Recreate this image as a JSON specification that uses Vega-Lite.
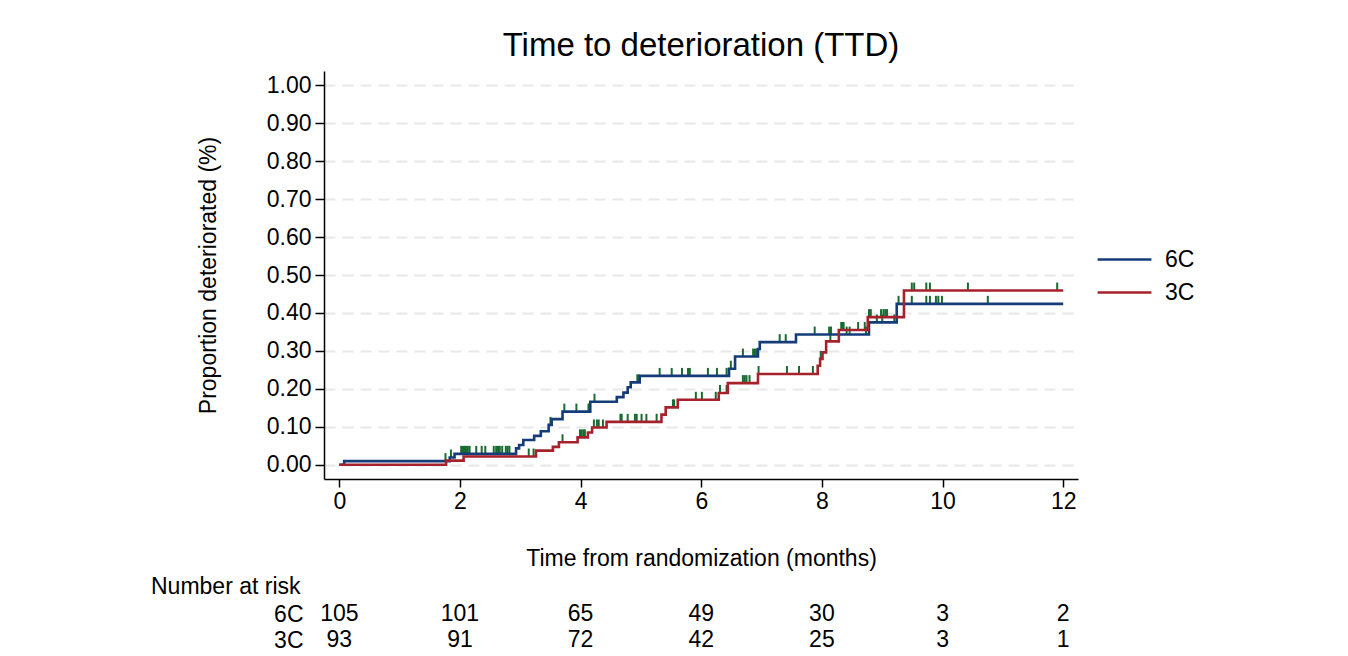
{
  "$schema": "https://vega.github.io/schema/vega-lite/v6.json",
  "background": "white",
  "padding": {"left": 151, "top": 30, "right": 0, "bottom": 0},
  "spacing": 6,
  "datasets": {
    "curves": [
      {"group": "6C", "time": 0, "p": 0},
      {"group": "6C", "time": 0.08, "p": 0.0095},
      {"group": "6C", "time": 1.83, "p": 0.019},
      {"group": "6C", "time": 1.91, "p": 0.0286},
      {"group": "6C", "time": 2.93, "p": 0.043},
      {"group": "6C", "time": 2.98, "p": 0.052},
      {"group": "6C", "time": 3.05, "p": 0.065},
      {"group": "6C", "time": 3.23, "p": 0.076},
      {"group": "6C", "time": 3.34, "p": 0.088},
      {"group": "6C", "time": 3.47, "p": 0.105},
      {"group": "6C", "time": 3.52, "p": 0.12},
      {"group": "6C", "time": 3.7, "p": 0.14},
      {"group": "6C", "time": 4.16, "p": 0.166},
      {"group": "6C", "time": 4.6, "p": 0.178},
      {"group": "6C", "time": 4.71, "p": 0.19},
      {"group": "6C", "time": 4.78, "p": 0.204},
      {"group": "6C", "time": 4.83, "p": 0.217},
      {"group": "6C", "time": 4.98, "p": 0.234},
      {"group": "6C", "time": 6.46, "p": 0.253},
      {"group": "6C", "time": 6.56, "p": 0.285},
      {"group": "6C", "time": 6.94, "p": 0.305},
      {"group": "6C", "time": 6.97, "p": 0.323},
      {"group": "6C", "time": 7.57, "p": 0.343},
      {"group": "6C", "time": 8.78, "p": 0.375},
      {"group": "6C", "time": 9.24, "p": 0.424},
      {"group": "6C", "time": 12, "p": 0.424},
      {"group": "3C", "time": 0, "p": 0},
      {"group": "3C", "time": 1.77, "p": 0.0108},
      {"group": "3C", "time": 2.06, "p": 0.0215},
      {"group": "3C", "time": 3.26, "p": 0.037},
      {"group": "3C", "time": 3.54, "p": 0.047},
      {"group": "3C", "time": 3.64, "p": 0.059},
      {"group": "3C", "time": 3.95, "p": 0.072},
      {"group": "3C", "time": 4.12, "p": 0.085},
      {"group": "3C", "time": 4.19, "p": 0.098},
      {"group": "3C", "time": 4.43, "p": 0.113},
      {"group": "3C", "time": 5.34, "p": 0.132},
      {"group": "3C", "time": 5.41, "p": 0.151},
      {"group": "3C", "time": 5.61, "p": 0.171},
      {"group": "3C", "time": 6.29, "p": 0.189},
      {"group": "3C", "time": 6.44, "p": 0.215},
      {"group": "3C", "time": 6.94, "p": 0.239},
      {"group": "3C", "time": 7.93, "p": 0.261},
      {"group": "3C", "time": 7.97, "p": 0.279},
      {"group": "3C", "time": 8.01, "p": 0.296},
      {"group": "3C", "time": 8.07, "p": 0.325},
      {"group": "3C", "time": 8.28, "p": 0.355},
      {"group": "3C", "time": 8.76, "p": 0.389},
      {"group": "3C", "time": 9.36, "p": 0.459},
      {"group": "3C", "time": 12, "p": 0.459}
    ],
    "censored": [
      {"group": "6C", "time": 1.76, "p": 0.0095},
      {"group": "6C", "time": 1.85, "p": 0.019},
      {"group": "6C", "time": 2.02, "p": 0.0286},
      {"group": "6C", "time": 2.05, "p": 0.0286},
      {"group": "6C", "time": 2.08, "p": 0.0286},
      {"group": "6C", "time": 2.1, "p": 0.0286},
      {"group": "6C", "time": 2.13, "p": 0.0286},
      {"group": "6C", "time": 2.16, "p": 0.0286},
      {"group": "6C", "time": 2.27, "p": 0.0286},
      {"group": "6C", "time": 2.36, "p": 0.0286},
      {"group": "6C", "time": 2.42, "p": 0.0286},
      {"group": "6C", "time": 2.56, "p": 0.0286},
      {"group": "6C", "time": 2.6, "p": 0.0286},
      {"group": "6C", "time": 2.63, "p": 0.0286},
      {"group": "6C", "time": 2.66, "p": 0.0286},
      {"group": "6C", "time": 2.7, "p": 0.0286},
      {"group": "6C", "time": 2.76, "p": 0.0286},
      {"group": "6C", "time": 2.79, "p": 0.0286},
      {"group": "6C", "time": 2.82, "p": 0.0286},
      {"group": "6C", "time": 3.5, "p": 0.105},
      {"group": "6C", "time": 3.73, "p": 0.14},
      {"group": "6C", "time": 3.93, "p": 0.14},
      {"group": "6C", "time": 4.13, "p": 0.14},
      {"group": "6C", "time": 4.23, "p": 0.166},
      {"group": "6C", "time": 4.94, "p": 0.217},
      {"group": "6C", "time": 4.96, "p": 0.217},
      {"group": "6C", "time": 5.31, "p": 0.234},
      {"group": "6C", "time": 5.51, "p": 0.234},
      {"group": "6C", "time": 5.68, "p": 0.234},
      {"group": "6C", "time": 5.78, "p": 0.234},
      {"group": "6C", "time": 5.81, "p": 0.234},
      {"group": "6C", "time": 6.11, "p": 0.234},
      {"group": "6C", "time": 6.26, "p": 0.234},
      {"group": "6C", "time": 6.42, "p": 0.234},
      {"group": "6C", "time": 6.49, "p": 0.253},
      {"group": "6C", "time": 6.69, "p": 0.285},
      {"group": "6C", "time": 6.86, "p": 0.285},
      {"group": "6C", "time": 6.89, "p": 0.285},
      {"group": "6C", "time": 6.92, "p": 0.285},
      {"group": "6C", "time": 7.3, "p": 0.323},
      {"group": "6C", "time": 7.4, "p": 0.323},
      {"group": "6C", "time": 7.88, "p": 0.343},
      {"group": "6C", "time": 8.12, "p": 0.343},
      {"group": "6C", "time": 8.15, "p": 0.343},
      {"group": "6C", "time": 8.41, "p": 0.343},
      {"group": "6C", "time": 8.46, "p": 0.343},
      {"group": "6C", "time": 8.73, "p": 0.343},
      {"group": "6C", "time": 8.91, "p": 0.375},
      {"group": "6C", "time": 9.0, "p": 0.375},
      {"group": "6C", "time": 9.2, "p": 0.375},
      {"group": "6C", "time": 9.27, "p": 0.424},
      {"group": "6C", "time": 9.49, "p": 0.424},
      {"group": "6C", "time": 9.73, "p": 0.424},
      {"group": "6C", "time": 9.79, "p": 0.424},
      {"group": "6C", "time": 9.89, "p": 0.424},
      {"group": "6C", "time": 9.93, "p": 0.424},
      {"group": "6C", "time": 9.99, "p": 0.424},
      {"group": "6C", "time": 10.75, "p": 0.424},
      {"group": "3C", "time": 3.14, "p": 0.0215},
      {"group": "3C", "time": 3.22, "p": 0.0215},
      {"group": "3C", "time": 3.7, "p": 0.059},
      {"group": "3C", "time": 3.99, "p": 0.072},
      {"group": "3C", "time": 4.02, "p": 0.072},
      {"group": "3C", "time": 4.05, "p": 0.072},
      {"group": "3C", "time": 4.07, "p": 0.072},
      {"group": "3C", "time": 4.22, "p": 0.098},
      {"group": "3C", "time": 4.27, "p": 0.098},
      {"group": "3C", "time": 4.3, "p": 0.098},
      {"group": "3C", "time": 4.37, "p": 0.098},
      {"group": "3C", "time": 4.66, "p": 0.113},
      {"group": "3C", "time": 4.68, "p": 0.113},
      {"group": "3C", "time": 4.78, "p": 0.113},
      {"group": "3C", "time": 4.9, "p": 0.113},
      {"group": "3C", "time": 4.93, "p": 0.113},
      {"group": "3C", "time": 5.01, "p": 0.113},
      {"group": "3C", "time": 5.09, "p": 0.113},
      {"group": "3C", "time": 5.26, "p": 0.113},
      {"group": "3C", "time": 5.53, "p": 0.151},
      {"group": "3C", "time": 5.55, "p": 0.151},
      {"group": "3C", "time": 5.91, "p": 0.171},
      {"group": "3C", "time": 6.01, "p": 0.171},
      {"group": "3C", "time": 6.24, "p": 0.171},
      {"group": "3C", "time": 6.31, "p": 0.189},
      {"group": "3C", "time": 6.42, "p": 0.189},
      {"group": "3C", "time": 6.69, "p": 0.215},
      {"group": "3C", "time": 6.72, "p": 0.215},
      {"group": "3C", "time": 6.75, "p": 0.215},
      {"group": "3C", "time": 6.8, "p": 0.215},
      {"group": "3C", "time": 6.95, "p": 0.239},
      {"group": "3C", "time": 7.42, "p": 0.239},
      {"group": "3C", "time": 7.62, "p": 0.239},
      {"group": "3C", "time": 7.85, "p": 0.239},
      {"group": "3C", "time": 7.98, "p": 0.279},
      {"group": "3C", "time": 8.14, "p": 0.325},
      {"group": "3C", "time": 8.32, "p": 0.355},
      {"group": "3C", "time": 8.34, "p": 0.355},
      {"group": "3C", "time": 8.36, "p": 0.355},
      {"group": "3C", "time": 8.6, "p": 0.355},
      {"group": "3C", "time": 8.71, "p": 0.355},
      {"group": "3C", "time": 8.78, "p": 0.389},
      {"group": "3C", "time": 8.81, "p": 0.389},
      {"group": "3C", "time": 8.98, "p": 0.389},
      {"group": "3C", "time": 9.02, "p": 0.389},
      {"group": "3C", "time": 9.05, "p": 0.389},
      {"group": "3C", "time": 9.08, "p": 0.389},
      {"group": "3C", "time": 9.49, "p": 0.459},
      {"group": "3C", "time": 9.53, "p": 0.459},
      {"group": "3C", "time": 9.73, "p": 0.459},
      {"group": "3C", "time": 9.79, "p": 0.459},
      {"group": "3C", "time": 10.42, "p": 0.459},
      {"group": "3C", "time": 11.9, "p": 0.459}
    ],
    "risk": [
      {"group": "6C", "time": 0, "n": 105},
      {"group": "6C", "time": 2, "n": 101},
      {"group": "6C", "time": 4, "n": 65},
      {"group": "6C", "time": 6, "n": 49},
      {"group": "6C", "time": 8, "n": 30},
      {"group": "6C", "time": 10, "n": 3},
      {"group": "6C", "time": 12, "n": 2},
      {"group": "3C", "time": 0, "n": 93},
      {"group": "3C", "time": 2, "n": 91},
      {"group": "3C", "time": 4, "n": 72},
      {"group": "3C", "time": 6, "n": 42},
      {"group": "3C", "time": 8, "n": 25},
      {"group": "3C", "time": 10, "n": 3},
      {"group": "3C", "time": 12, "n": 1}
    ]
  },
  "vconcat": [
    {
      "title": {"text": "Time to deterioration (TTD)", "fontSize": 33, "fontWeight": "normal", "anchor": "middle", "offset": 8, "color": "black"},
      "width": 754,
      "height": 408,
      "layer": [
        {
          "data": {"name": "censored"},
          "mark": {"type": "tick", "orient": "vertical", "size": 8, "thickness": 2, "color": "#1a6b32", "opacity": 1, "yOffset": -4},
          "encoding": {
            "x": {"field": "time", "type": "quantitative"},
            "y": {"field": "p", "type": "quantitative"}
          }
        },
        {
          "data": {"name": "curves"},
          "mark": {"type": "line", "interpolate": "step-after", "strokeWidth": 2.6},
          "encoding": {
            "x": {
              "field": "time", "type": "quantitative",
              "scale": {"domain": [-0.254, 12.245], "nice": false, "zero": false},
              "axis": {"values": [0, 2, 4, 6, 8, 10, 12], "format": "d", "grid": false, "title": "Time from randomization (months)", "tickSize": 8, "labelPadding": 3, "titlePadding": 34}
            },
            "y": {
              "field": "p", "type": "quantitative",
              "scale": {"domain": [-0.0377, 1.0377], "nice": false, "zero": false},
              "axis": {"values": [0, 0.1, 0.2, 0.3, 0.4, 0.5, 0.6, 0.7, 0.8, 0.9, 1.0], "format": ".2f", "grid": true, "title": "Proportion deteriorated (%)", "tickSize": 9, "labelPadding": 4, "titlePadding": 46}
            },
            "color": {
              "field": "group", "type": "nominal",
              "scale": {"domain": ["6C", "3C"], "range": ["#143c78", "#a5222c"]},
              "legend": {"orient": "none", "legendX": 772, "legendY": 176, "title": null, "symbolType": "stroke", "symbolSize": 2900, "symbolStrokeWidth": 2.6, "labelFontSize": 23, "labelOffset": 12, "clipHeight": 25, "rowPadding": 8, "labelColor": "black"}
            }
          }
        }
      ]
    },
    {
      "title": {"text": "Number at risk", "anchor": "start", "frame": "group", "dx": -173, "fontSize": 23, "fontWeight": "normal", "offset": 2, "color": "black"},
      "width": 754,
      "height": 52,
      "data": {"name": "risk"},
      "mark": {"type": "text", "fontSize": 23, "color": "black"},
      "encoding": {
        "x": {"field": "time", "type": "quantitative", "scale": {"domain": [-0.254, 12.245], "nice": false, "zero": false}, "axis": null},
        "y": {"field": "group", "type": "nominal", "sort": ["6C", "3C"], "scale": {"paddingInner": 0, "paddingOuter": 0}, "axis": {"title": null, "domain": false, "ticks": false, "labelFontSize": 23, "labelPadding": 21, "labelColor": "black"}},
        "text": {"field": "n"}
      }
    }
  ],
  "config": {
    "font": "Liberation Sans",
    "view": {"stroke": null},
    "axis": {"labelFontSize": 23, "titleFontSize": 23, "titleFontWeight": "normal", "labelColor": "black", "titleColor": "black", "domainColor": "black", "tickColor": "black", "domainWidth": 1.5, "tickWidth": 1.5, "gridColor": "#e8e8e8", "gridWidth": 2, "gridDash": [11, 7]},
    "legend": {"labelFont": "Liberation Sans"}
  }
}
